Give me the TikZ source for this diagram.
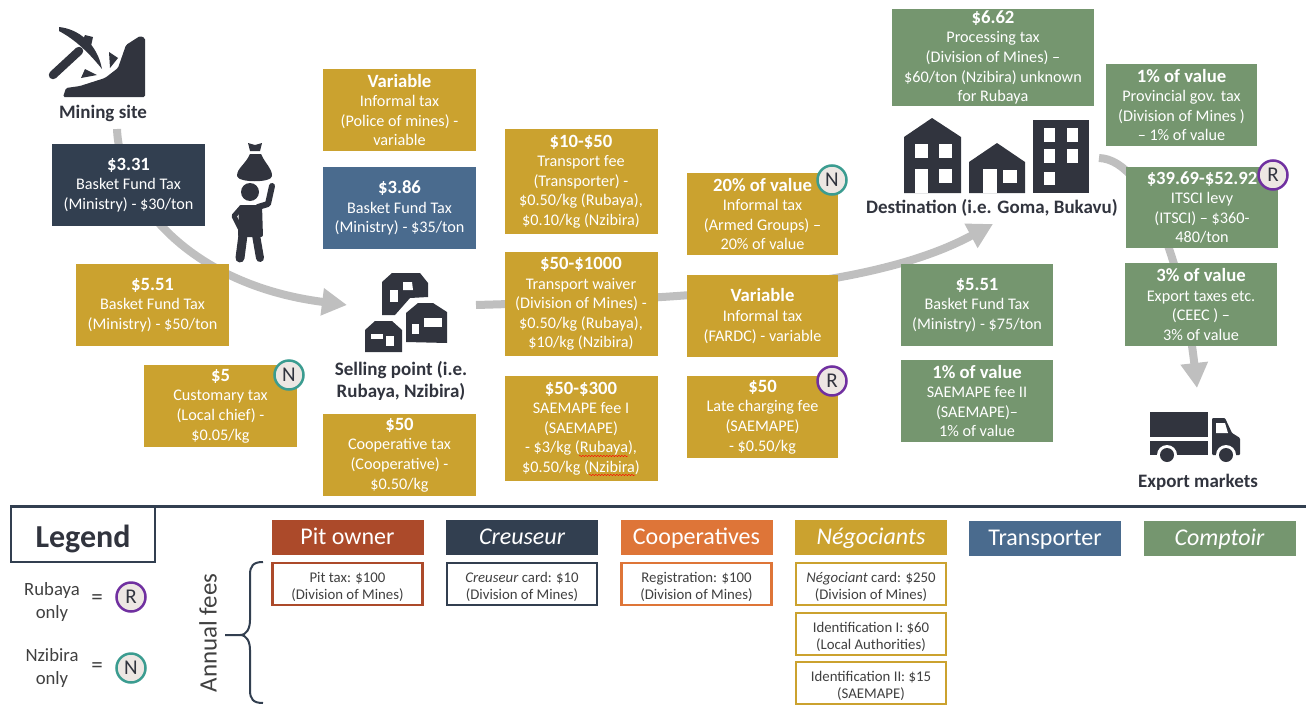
\documentclass[tikz,border=0pt]{standalone}
\usepackage{fontspec}
\setmainfont{Carlito}
\usetikzlibrary{arrows.meta,decorations.pathmorphing}

\definecolor{goldfee}{HTML}{CBA22F}
\definecolor{greenfee}{HTML}{75966F}
\definecolor{bluefee}{HTML}{4A6B8E}
\definecolor{darkfee}{HTML}{323F50}
\definecolor{pitfee}{HTML}{AC4A2A}
\definecolor{coopfee}{HTML}{DE7538}
\definecolor{flowgray}{HTML}{BFBFBF}
\definecolor{icondark}{HTML}{31343E}
\definecolor{badgefill}{HTML}{EDE7E3}
\definecolor{badgepurple}{HTML}{7030A0}
\definecolor{badgeteal}{HTML}{3B9C90}
\definecolor{subtext}{HTML}{404040}

\newcommand{\FeeHead}[1]{{\fontsize{18.7}{19.6}\selectfont\bfseries #1}}

\begin{document}
\begin{tikzpicture}[x=1pt,y=-1pt]
\useasboundingbox (0,0) rectangle (1306,704);

\coordinate (A1_1) at (117,129);
\coordinate (A1_2) at (347,305);
\coordinate (A2_1) at (476,305);
\coordinate (A2_2) at (993,224);
\coordinate (A3_1) at (1099,158);
\coordinate (A3_2) at (1197,388);
\coordinate (L1) at (10,506);
\coordinate (L2) at (1306,506);


\tikzset{FlowStyle/.style = {flowgray, line width=8pt, -{Triangle[length=25pt,width=26pt]}} }

\draw[FlowStyle] (A1_1) .. controls (120,200) and (190,285) .. (A1_2);
\draw[FlowStyle] (A2_1) .. controls (720,298) and (880,285) .. (A2_2);
\draw[FlowStyle] (A3_1) .. controls (1150,160) and (1185,280) .. (A3_2);
\draw[darkfee, line width=3pt] (L1) -- (L2);


\tikzset{IconStyle/.style = {fill=icondark, draw=none} }
\tikzset{HoleStyle/.style = {fill=white, draw=none} }

% mining site
\fill[IconStyle, rounded corners=1.5pt] (63,97) -- (66,88) -- (80,86) -- (105,78) -- (118,68) -- (126,45) -- (140,36) -- (145,38) -- (145,97) -- cycle;
\draw[icondark, line width=8.5pt, line cap=round] (79,51) -- (53,75);
\fill[IconStyle] (59,27) .. controls (78,29) and (97,43) .. (102,69) .. controls (90,54) and (76,40) .. (59,31) -- cycle;
\fill[IconStyle] (85,35) -- (93,37) -- (91,46) -- (82,42) -- cycle;
\fill[IconStyle] (109,52) -- (118,58) -- (110,68) -- cycle;
\fill[IconStyle] (85,69) -- (97,75) -- (81,78) -- cycle;

% carrier
\fill[IconStyle] (248,143) -- (255,145) -- (262,143) -- (260,151) -- (250,151) -- cycle;
\fill[IconStyle] (250,154) -- (261,154) .. controls (266,165) and (272,168) .. (272,176) .. controls (272,183) and (238,183) .. (237,176) .. controls (237,168) and (245,165) .. (250,154) -- cycle;
\fill[IconStyle] (250,192) circle (9);
\fill[IconStyle, rounded corners=2pt] (239,205) -- (262,205) -- (263,237) -- (238,237) -- cycle;
\draw[icondark, line width=5pt, line cap=round, line join=round] (241,208) -- (234,216) -- (240,228);
\draw[icondark, line width=6pt, line cap=round, line join=round] (258,207) -- (268,204) -- (272,186);
\draw[icondark, line width=9pt, line cap=round] (243,235) -- (240,258);
\draw[icondark, line width=8pt, line cap=round] (256,235) -- (260,258);

% selling point
\fill[IconStyle] (382,282) -- (392,273) -- (420,273) -- (428,283) -- (428,297) -- (410,298) -- (395,315) -- (382,315) -- cycle;
\fill[HoleStyle] (390,290) rectangle (398,302);
\fill[HoleStyle] (403,282) -- (412,282) -- (413,290) -- (403,290) -- cycle;
\fill[IconStyle] (406,313) -- (418,303) -- (433,303) -- (447,312) -- (447,343) -- (406,342) -- cycle;
\fill[HoleStyle] (424,318) rectangle (442,327);
\fill[HoleStyle] (412,324) rectangle (419,334);
\fill[IconStyle] (365,330) -- (375,321) -- (392,321) -- (402,330) -- (402,352) -- (365,352) -- cycle;
\fill[HoleStyle] (371,334) rectangle (383,339);
\fill[HoleStyle] (386,336) rectangle (394,346);

% destination
\fill[IconStyle] (904,137) -- (932,118) -- (961,137) -- (961,193) -- (904,193) -- cycle;
\fill[HoleStyle] (915,144) rectangle (928,158);
\fill[HoleStyle] (939,144) rectangle (952,158);
\fill[HoleStyle] (939,169) rectangle (952,183);
\fill[HoleStyle] (915,169) rectangle (928,193);
\fill[IconStyle] (969,162) -- (997,143) -- (1025,162) -- (1025,193) -- (969,193) -- cycle;
\fill[HoleStyle] (983,169) rectangle (997,193);
\fill[HoleStyle] (1003,170) rectangle (1017,183);
\fill[IconStyle] (1033,120) rectangle (1089,193);
\fill[HoleStyle] (1044,128) rectangle (1055,142);
\fill[HoleStyle] (1067,128) rectangle (1078,142);
\fill[HoleStyle] (1044,149) rectangle (1055,163);
\fill[HoleStyle] (1067,149) rectangle (1078,163);
\fill[HoleStyle] (1044,172) rectangle (1055,185);

% export markets
\fill[IconStyle] (1150,412) rectangle (1208,437);
\fill[IconStyle] (1150,441) rectangle (1208,455);
\fill[IconStyle, rounded corners=1pt] (1212,418) -- (1225,418) -- (1232,433) -- (1240,438) -- (1240,455) -- (1212,455) -- cycle;
\fill[HoleStyle] (1216,423) -- (1225,423) -- (1228,433) -- (1216,433) -- cycle;
\fill[HoleStyle] (1167,455) circle (10);
\fill[HoleStyle] (1226,455) circle (10);
\fill[IconStyle] (1167,455) circle (7);
\fill[IconStyle] (1226,455) circle (7);


\tikzset{FeeStyle/.style = {
 fill = #1,
 text = white,
 align = center,
 inner sep = 0pt,
 outer sep = 0pt,
 minimum width = 153pt,
 minimum height = 82pt,
 font = \fontsize{16.2}{19.6}\selectfont} }

\node[FeeStyle=darkfee] (F1) at (128.5,185) {\FeeHead{\$3.31}\\Basket Fund Tax\\(Ministry) - \$30/ton};
\node[FeeStyle=goldfee] (F2) at (152.5,305) {\FeeHead{\$5.51}\\Basket Fund Tax\\(Ministry) - \$50/ton};
\node[FeeStyle=goldfee] (F3) at (220.5,406) {\FeeHead{\$5}\\Customary tax\\(Local chief) -\\\$0.05/kg};
\node[FeeStyle=goldfee] (F4) at (399.5,110) {\FeeHead{Variable}\\Informal tax\\(Police of mines) -\\variable};
\node[FeeStyle=bluefee] (F5) at (399.5,208) {\FeeHead{\$3.86}\\Basket Fund Tax\\(Ministry) - \$35/ton};
\node[FeeStyle=goldfee] (F6) at (399.5,455) {\FeeHead{\$50}\\Cooperative tax\\(Cooperative) -\\\$0.50/kg};
\node[FeeStyle=goldfee, minimum height=105pt] (F7) at (581,181.5) {\FeeHead{\$10-\$50}\\Transport fee\\(Transporter) -\\\$0.50/kg (Rubaya),\\\$0.10/kg (Nzibira)};
\node[FeeStyle=goldfee, minimum height=104pt] (F8) at (581,304) {\FeeHead{\$50-\$1000}\\Transport waiver\\(Division of Mines) -\\\$0.50/kg (Rubaya),\\\$10/kg (Nzibira)};
\node[FeeStyle=goldfee, minimum height=105pt] (F9) at (581,428.5) {\FeeHead{\$50-\$300}\\SAEMAPE fee I\\(SAEMAPE)\\- \$3/kg (Rubaya),\\\$0.50/kg (Nzibira)};
\node[FeeStyle=goldfee, minimum width=151pt] (F10) at (762.5,214) {\FeeHead{20\% of value}\\Informal tax\\(Armed Groups) --\\20\% of value};
\node[FeeStyle=goldfee, minimum width=151pt] (F11) at (762.5,316) {\FeeHead{Variable}\\Informal tax\\(FARDC) - variable};
\node[FeeStyle=goldfee, minimum width=151pt] (F12) at (762.5,417) {\FeeHead{\$50}\\Late charging fee\\(SAEMAPE)\\- \$0.50/kg};
\node[FeeStyle=greenfee, minimum width=202pt, minimum height=97pt] (F13) at (993,57.5) {\FeeHead{\$6.62}\\Processing tax\\(Division of Mines) --\\\$60/ton (Nzibira) unknown\\for Rubaya};
\node[FeeStyle=greenfee, minimum width=151pt] (F14) at (1181.5,105) {\FeeHead{1\% of value}\\Provincial gov. tax\\(Division of Mines )\\-- 1\% of value};
\node[FeeStyle=greenfee, minimum width=152pt, minimum height=81pt] (F15) at (1202,207.5) {\FeeHead{\$39.69-\$52.92}\\ITSCI levy\\(ITSCI) -- \$360-\\480/ton};
\node[FeeStyle=greenfee, minimum width=152pt, minimum height=83pt] (F16) at (1201,304.5) {\FeeHead{3\% of value}\\Export taxes etc.\\(CEEC ) --\\3\% of value};
\node[FeeStyle=greenfee, minimum width=152pt] (F17) at (977,305) {\FeeHead{\$5.51}\\Basket Fund Tax\\(Ministry) - \$75/ton};
\node[FeeStyle=greenfee, minimum width=152pt] (F18) at (977,401) {\FeeHead{1\% of value}\\SAEMAPE fee II\\(SAEMAPE)--\\1\% of value};

\draw[red, decorate, decoration={snake, amplitude=0.7pt, segment length=3pt}] (579,456) -- (628,456);
\draw[red, decorate, decoration={snake, amplitude=0.7pt, segment length=3pt}] (589,475) -- (635,475);


\tikzset{SiteStyle/.style = {
 text = icondark,
 align = center,
 inner sep = 0pt,
 font = \fontsize{19}{22}\selectfont\bfseries} }

\node[SiteStyle] (S1) at (103,113) {Mining site};
\node[SiteStyle] (S2) at (401,381) {Selling point (i.e.\\Rubaya, Nzibira)};
\node[SiteStyle] (S3) at (992,208) {Destination (i.e. Goma, Bukavu)};
\node[SiteStyle] (S4) at (1198,482) {Export markets};


\tikzset{BadgeStyle/.style = {
 shape = circle,
 draw = #1,
 line width = 2.5pt,
 fill = badgefill,
 text = icondark,
 inner sep = 0pt,
 minimum size = 29pt,
 font = \fontsize{21}{21}\selectfont} }

\node[BadgeStyle=badgeteal] (B1) at (289,375) {N};
\node[BadgeStyle=badgeteal] (B2) at (832,180) {N};
\node[BadgeStyle=badgepurple] (B3) at (832,381) {R};
\node[BadgeStyle=badgepurple] (B4) at (1273,175) {R};
\node[BadgeStyle=badgepurple] (B5) at (131,597) {R};
\node[BadgeStyle=badgeteal] (B6) at (131,668) {N};


\tikzset{LegendStyle/.style = {
 text = subtext,
 align = center,
 inner sep = 0pt,
 font = \fontsize{18.7}{22.5}\selectfont} }

\node[draw=darkfee, line width=1.5pt, minimum width=144pt, minimum height=55pt, inner sep=0pt, text=icondark, font=\fontsize{32}{32}\selectfont\bfseries] (LG) at (83,534.5) {\rule{0pt}{32pt}Legend};
\node[LegendStyle] (R1) at (52,602) {Rubaya\\only};
\node[LegendStyle, font=\fontsize{23}{23}\selectfont] (R2) at (97,600) {=};
\node[LegendStyle] (N1) at (52,668) {Nzibira\\only};
\node[LegendStyle, font=\fontsize{23}{23}\selectfont] (N2) at (97,668) {=};
\node[LegendStyle, rotate=90, font=\fontsize{25}{25}\selectfont] (AF) at (208,633) {Annual fees};

\draw[darkfee, line width=2pt] (263,562) .. controls (253,562) and (250,566) .. (250,575) -- (250,620) .. controls (250,628) and (247,635) .. (240,635) -- (225,635);
\draw[darkfee, line width=2pt] (240,635) .. controls (247,635) and (250,642) .. (250,650) -- (250,690) .. controls (250,699) and (253,703) .. (263,703);


\tikzset{HeadStyle/.style = {
 fill = #1,
 text = white,
 inner sep = 0pt,
 minimum width = 152pt,
 minimum height = 35pt,
 text height = 19pt,
 text depth = 5pt,
 font = \fontsize{24}{24}\selectfont} }

\node[HeadStyle=pitfee] (H1) at (347.5,537) {Pit owner};
\node[HeadStyle=darkfee] (H2) at (522,537) {\itshape Creuseur};
\node[HeadStyle=coopfee] (H3) at (696.5,537) {Cooperatives};
\node[HeadStyle=goldfee] (H4) at (871,537) {\itshape Négociants};
\node[HeadStyle=bluefee] (H5) at (1045,538) {Transporter};
\node[HeadStyle=greenfee] (H6) at (1219.5,538) {\itshape Comptoir};


\tikzset{CardStyle/.style = {
 draw = #1,
 fill = white,
 line width = 2.5pt,
 text = subtext,
 align = center,
 inner sep = 0pt,
 minimum width = 150pt,
 minimum height = 42pt,
 font = \fontsize{14.8}{17}\selectfont} }

\node[CardStyle=pitfee] (C1) at (347.5,584) {\rule{0pt}{16pt}Pit tax: \$100\\(Division of Mines)};
\node[CardStyle=darkfee] (C2) at (522,584) {\rule{0pt}{16pt}\textit{Creuseur} card: \$10\\(Division of Mines)};
\node[CardStyle=coopfee] (C3) at (696.5,584) {\rule{0pt}{16pt}Registration: \$100\\(Division of Mines)};
\node[CardStyle=goldfee] (C4) at (871,584) {\rule{0pt}{16pt}\textit{Négociant} card: \$250\\(Division of Mines)};
\node[CardStyle=goldfee] (C5) at (871,634) {\rule{0pt}{16pt}Identification I: \$60\\(Local Authorities)};
\node[CardStyle=goldfee] (C6) at (871,683) {\rule{0pt}{16pt}Identification II: \$15\\(SAEMAPE)};

\end{tikzpicture}
\end{document}
